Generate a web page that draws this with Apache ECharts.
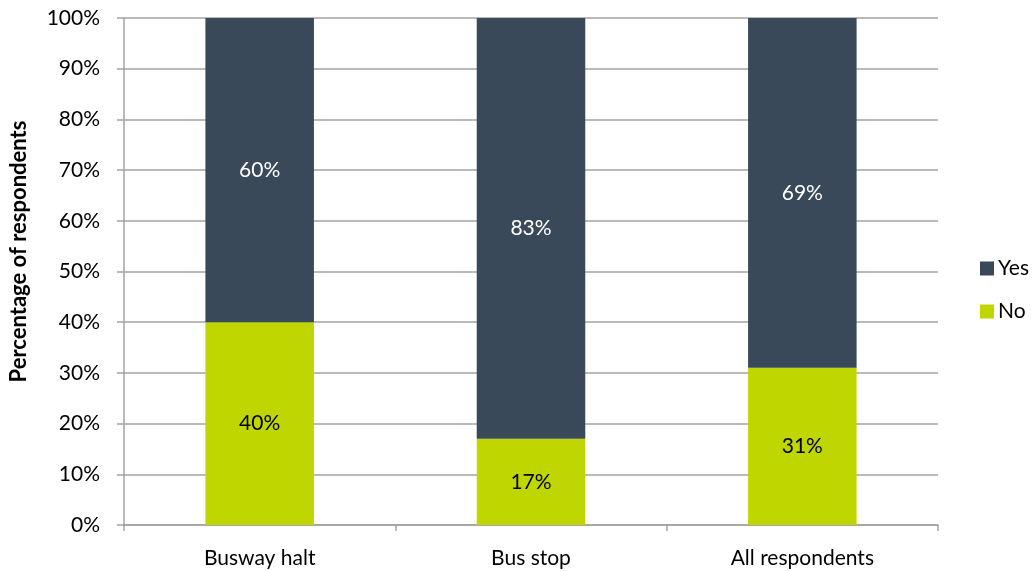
<!DOCTYPE html>
<html>
<head>
<meta charset="utf-8">
<script src="https://cdn.jsdelivr.net/npm/echarts@6/dist/echarts.min.js"></script>
<style>
  html, body { margin: 0; padding: 0; background: #fff; }
  #chart { width: 1035px; height: 571px; }
</style>
</head>
<body>
<div id="chart"></div>
<script>
// Share of respondents answering Yes / No, by where they wait for the bus
const categories = ['Busway halt', 'Bus stop', 'All respondents'];
const noValues = [40, 17, 31];
const yesValues = [60, 83, 69];
const yTicks = { min: 0, max: 100, interval: 10 };

const FONT = 'Lato, "Open Sans", sans-serif';
const FS = 21;
const GRID_COLOR = '#a3a3a3';

const chart = echarts.init(document.getElementById('chart'), null, { renderer: 'canvas' });

chart.setOption({
  animation: false,
  textStyle: { fontFamily: FONT },
  grid: { left: 122, right: 97, top: 18, bottom: 46, containLabel: false },
  legend: {
    orient: 'vertical',
    left: 975,
    top: 253,
    itemWidth: 14,
    itemHeight: 14,
    itemGap: 22,
    icon: 'rect',
    data: ['Yes', 'No'],
    textStyle: { fontFamily: FONT, fontSize: FS, color: '#000', padding: [0, 0, 0, -1] }
  },
  xAxis: {
    type: 'category',
    data: categories,
    axisLine: { lineStyle: { color: GRID_COLOR, width: 1.5 } },
    axisTick: { show: true, length: 6, alignWithLabel: false, lineStyle: { color: GRID_COLOR, width: 1.5 } },
    axisLabel: { color: '#000', fontSize: FS, margin: 23, fontFamily: FONT }
  },
  yAxis: {
    type: 'value',
    min: yTicks.min,
    max: yTicks.max,
    interval: yTicks.interval,
    name: 'Percentage of respondents',
    nameLocation: 'middle',
    nameGap: 94,
    nameTextStyle: { fontFamily: FONT, fontSize: 22, fontWeight: 'bold', color: '#000', padding: [0, 0, 0, 40] },
    axisLine: { show: true, lineStyle: { color: GRID_COLOR, width: 1.5 } },
    axisTick: { show: true, length: 7, lineStyle: { color: GRID_COLOR, width: 1.5 } },
    axisLabel: { color: '#000', fontSize: FS, margin: 24, fontFamily: FONT, formatter: '{value}%' },
    splitLine: { show: true, lineStyle: { color: GRID_COLOR, width: 1.5 } }
  },
  series: [
    {
      name: 'No',
      type: 'bar',
      stack: 'total',
      barWidth: '40%',
      data: noValues,
      itemStyle: { color: '#bfd600' },
      label: { show: true, position: 'inside', formatter: '{c}%', color: '#000', fontSize: FS, fontFamily: FONT }
    },
    {
      name: 'Yes',
      type: 'bar',
      stack: 'total',
      barWidth: '40%',
      data: yesValues,
      itemStyle: { color: '#394959' },
      label: { show: true, position: 'inside', formatter: '{c}%', color: '#fff', fontSize: FS, fontFamily: FONT }
    }
  ]
});
</script>
</body>
</html>
